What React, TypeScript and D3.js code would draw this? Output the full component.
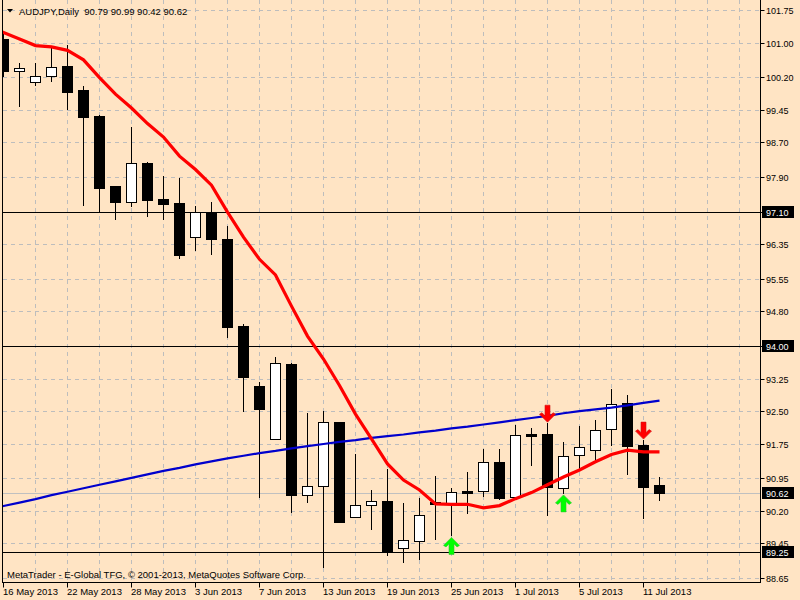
import React, { useRef, useEffect } from "react";
import * as d3 from "d3";

/* daily bars, AUDJPY */
const DATES = [
  "2013-05-16", "2013-05-17", "2013-05-20", "2013-05-21", "2013-05-22", "2013-05-23",
  "2013-05-24", "2013-05-27", "2013-05-28", "2013-05-29", "2013-05-30", "2013-05-31",
  "2013-06-03", "2013-06-04", "2013-06-05", "2013-06-06", "2013-06-07", "2013-06-10",
  "2013-06-11", "2013-06-12", "2013-06-13", "2013-06-14", "2013-06-17", "2013-06-18",
  "2013-06-19", "2013-06-20", "2013-06-21", "2013-06-24", "2013-06-25", "2013-06-26",
  "2013-06-27", "2013-06-28", "2013-07-01", "2013-07-02", "2013-07-03", "2013-07-04",
  "2013-07-05", "2013-07-08", "2013-07-09", "2013-07-10", "2013-07-11", "2013-07-12",
];
const OPEN = [
  101.07, 100.34, 100.1, 100.23, 100.46, 99.91, 99.31, 97.69, 97.33, 98.22, 97.39, 97.3,
  96.51, 97.08, 96.48, 94.46, 93.08, 91.86, 93.59, 90.56, 90.77, 92.25, 90.06, 90.34,
  90.43, 89.34, 89.51, 90.41, 90.39, 90.66, 90.65, 91.33, 90.52, 91.96, 91.97, 90.72,
  91.48, 91.61, 92.08, 92.68, 91.71, 90.79,
];
const HIGH = [
  101.22, 100.53, 100.53, 100.87, 100.94, 100.0, 99.33, 97.69, 99.06, 98.24, 97.93, 97.88,
  97.23, 97.32, 96.77, 94.5, 93.18, 93.75, 93.62, 92.46, 92.5, 92.25, 91.51, 90.68,
  91.16, 90.37, 90.5, 91.0, 90.73, 91.1, 91.63, 91.63, 92.18, 92.1, 92.22, 91.79,
  92.16, 92.29, 93.01, 92.87, 91.83, 90.99,
];
const LOW = [
  100.2, 99.52, 100.0, 100.1, 99.44, 97.24, 97.08, 96.91, 97.21, 96.98, 96.91, 96.01,
  96.2, 96.1, 94.18, 92.49, 90.49, 91.85, 90.16, 90.39, 88.87, 89.93, 90.04, 89.76,
  89.16, 89.0, 89.07, 89.53, 89.61, 90.13, 90.52, 90.45, 90.49, 91.23, 90.09, 90.59,
  91.16, 91.37, 91.69, 91.03, 90.01, 90.42,
];
const CLOSE = [
  100.35, 100.41, 100.22, 100.43, 99.87, 99.29, 97.65, 97.33, 98.21, 97.37, 97.28, 96.11,
  97.1, 96.47, 94.45, 93.29, 92.55, 93.6, 90.56, 90.77, 92.24, 89.94, 90.33, 90.43,
  89.27, 89.52, 90.1, 90.35, 90.63, 90.62, 91.32, 90.5, 91.94, 91.93, 90.74, 91.46,
  91.66, 92.06, 92.66, 91.7, 90.76, 90.62,
];

/* moving averages, first value belongs to the bar before 16 May */
const MA_RED = [
  101.38, 101.23, 101.08, 100.93, 100.9, 100.82, 100.6, 100.19, 99.81, 99.49, 99.13, 98.82,
  98.38, 98.07, 97.71, 97.09, 96.51, 96.0, 95.64, 94.92, 94.23, 93.7, 93.09, 92.43,
  91.86, 91.28, 90.91, 90.68, 90.36, 90.35, 90.35, 90.27, 90.32, 90.48, 90.62, 90.8,
  90.98, 91.14, 91.33, 91.5, 91.6, 91.56, 91.56,
];
const MA_BLUE = [
  90.23, 90.31, 90.39, 90.47, 90.56, 90.64, 90.72, 90.8, 90.88, 90.96, 91.04, 91.12,
  91.19, 91.27, 91.34, 91.41, 91.47, 91.53, 91.58, 91.64, 91.69, 91.74, 91.79, 91.83,
  91.88, 91.92, 91.96, 92.01, 92.05, 92.1, 92.14, 92.19, 92.24, 92.29, 92.34, 92.39,
  92.45, 92.5, 92.54, 92.58, 92.63, 92.69, 92.74,
];

const Y_TICKS = [
  101.75, 101.0, 100.2, 99.45, 98.7, 97.9, 97.1, 96.35, 95.55, 94.8, 94.0, 93.25, 92.5,
  91.75, 90.95, 90.2, 89.45, 88.65,
];
const LEVELS = [97.1, 94.0, 89.25];
const BID = 90.62;
const BUY_DATES = ["2013-06-25", "2013-07-04"];
const SELL_DATES = ["2013-07-03", "2013-07-11"];

const TITLE = "AUDJPY,Daily";
const COPYRIGHT = "MetaTrader - E-Global TFG, © 2001-2013, MetaQuotes Software Corp.";

const BG = "#FFE4C4";
const FONT = "'Liberation Sans', Arial, sans-serif";

export default function App() {
  const svgRef = useRef<SVGSVGElement>(null);

  useEffect(() => {
    document.body.style.margin = "0";
    const W = 800;
    const H = 600;
    const R = 760.5; // right frame
    const B = 582.5; // bottom frame
    const L = 2.5; // left frame

    const x = d3.scaleLinear().domain([0, 47]).range([3.5, 755.5]);
    const y = d3.scaleLinear().domain([88.65, 101.75]).range([578, 10]);
    const py = (v: number) => Math.round(y(v)) + 0.5;

    const parse = d3.timeParse("%Y-%m-%d");
    const fmt = d3.timeFormat("%-d %b %Y");
    const f2 = d3.format(".2f");

    const svg = d3.select(svgRef.current);
    svg.selectAll("*").remove();
    svg.append("rect").attr("width", W).attr("height", H).attr("fill", BG);

    svg
      .append("defs")
      .append("clipPath")
      .attr("id", "plot")
      .append("rect")
      .attr("x", 3)
      .attr("y", 0)
      .attr("width", R - 3)
      .attr("height", B);

    const g = svg.append("g").attr("clip-path", "url(#plot)");

    /* ---- grid ---- */
    const gridIdx = d3.range(2, 48, 2);
    g.selectAll(".vg")
      .data(gridIdx)
      .enter()
      .append("line")
      .attr("x1", (d) => x(d))
      .attr("x2", (d) => x(d))
      .attr("y1", 0)
      .attr("y2", B)
      .attr("stroke", "#BDBDBD")
      .attr("stroke-dasharray", "4,4");
    g.selectAll(".hg")
      .data(Y_TICKS)
      .enter()
      .append("line")
      .attr("x1", 3)
      .attr("x2", R)
      .attr("y1", (d) => py(d))
      .attr("y2", (d) => py(d))
      .attr("stroke", "#BDBDBD")
      .attr("stroke-dasharray", "4,4");

    /* ---- bid + levels ---- */
    g.append("line")
      .attr("x1", 3)
      .attr("x2", R)
      .attr("y1", py(BID))
      .attr("y2", py(BID))
      .attr("stroke", "#C0C0C0");
    g.selectAll(".lvl")
      .data(LEVELS)
      .enter()
      .append("line")
      .attr("x1", 3)
      .attr("x2", R)
      .attr("y1", (d) => py(d))
      .attr("y2", (d) => py(d))
      .attr("stroke", "#000");

    /* ---- candles ---- */
    const bars = DATES.map((d, i) => ({
      i,
      date: d,
      o: OPEN[i],
      h: HIGH[i],
      l: LOW[i],
      c: CLOSE[i],
    }));
    const cg = g.append("g").attr("shape-rendering", "crispEdges");
    cg.selectAll(".wick")
      .data(bars)
      .enter()
      .append("line")
      .attr("x1", (d) => x(d.i))
      .attr("x2", (d) => x(d.i))
      .attr("y1", (d) => Math.round(y(d.h)))
      .attr("y2", (d) => Math.round(y(d.l)))
      .attr("stroke", "#000");
    cg.selectAll(".body")
      .data(bars)
      .enter()
      .append("rect")
      .attr("x", (d) => x(d.i) - 5)
      .attr("width", 10)
      .attr("y", (d) => py(Math.max(d.o, d.c)))
      .attr("height", (d) => Math.max(1, py(Math.min(d.o, d.c)) - py(Math.max(d.o, d.c))))
      .attr("fill", (d) => (d.c >= d.o ? "#fff" : "#000"))
      .attr("stroke", "#000");

    /* ---- moving averages ---- */
    const maLine = d3
      .line<number>()
      .x((_, i) => x(i - 1))
      .y((v) => y(v));
    g.append("path")
      .datum(MA_BLUE)
      .attr("d", maLine)
      .attr("fill", "none")
      .attr("stroke", "#0000CD")
      .attr("stroke-width", 2.2);
    g.append("path")
      .datum(MA_RED)
      .attr("d", maLine)
      .attr("fill", "none")
      .attr("stroke", "#FF0000")
      .attr("stroke-width", 3.2);

    /* ---- signal arrows ---- */
    const upArrow =
      "M0,0 L8,8 L5.5,9.5 L2.5,6.5 L2.5,17 L-2.5,17 L-2.5,6.5 L-5.5,9.5 L-8,8 Z";
    const idxOf = (d: string) => DATES.indexOf(d);
    g.selectAll(".buy")
      .data(BUY_DATES.map(idxOf))
      .enter()
      .append("path")
      .attr("d", upArrow)
      .attr("transform", (i) => `translate(${x(i)},${y(LOW[i]) + 1})`)
      .attr("fill", "#00FF00")
      .attr("stroke", "#2EC82E")
      .attr("stroke-width", 0.6);
    g.selectAll(".sell")
      .data(SELL_DATES.map(idxOf))
      .enter()
      .append("path")
      .attr("d", upArrow)
      .attr("transform", (i) => `translate(${x(i)},${y(HIGH[i]) - 1}) scale(1,-1)`)
      .attr("fill", "#FF0000")
      .attr("stroke", "#D01010")
      .attr("stroke-width", 0.6);

    /* ---- frame ---- */
    const frame = svg.append("g").attr("stroke", "#000").attr("shape-rendering", "crispEdges");
    frame.append("line").attr("x1", L).attr("x2", L).attr("y1", 0).attr("y2", B);
    frame.append("line").attr("x1", R).attr("x2", R).attr("y1", 0).attr("y2", B);
    frame.append("line").attr("x1", L).attr("x2", R).attr("y1", B).attr("y2", B);

    /* ---- y axis ---- */
    const ya = svg.append("g").style("font-family", FONT).style("font-size", "9px");
    ya.selectAll("line")
      .data(Y_TICKS)
      .enter()
      .append("line")
      .attr("x1", R)
      .attr("x2", R + 4)
      .attr("y1", (d) => py(d))
      .attr("y2", (d) => py(d))
      .attr("stroke", "#000");
    ya.selectAll("text")
      .data(Y_TICKS)
      .enter()
      .append("text")
      .attr("x", 766)
      .attr("y", (d) => py(d))
      .attr("dy", "0.35em")
      .attr("fill", "#000")
      .text((d) => f2(d));

    const boxes = svg.append("g").style("font-family", FONT).style("font-size", "9px");
    [...LEVELS, BID].forEach((v) => {
      boxes
        .append("rect")
        .attr("x", 762)
        .attr("y", py(v) - 6.5)
        .attr("width", 32)
        .attr("height", 12)
        .attr("fill", "#000");
      boxes
        .append("text")
        .attr("x", 766)
        .attr("y", py(v))
        .attr("dy", "0.35em")
        .attr("fill", "#fff")
        .text(f2(v));
    });

    /* ---- x axis ---- */
    const xIdx = d3.range(0, DATES.length, 4);
    const xa = svg.append("g").style("font-family", FONT).style("font-size", "9.5px");
    xa.selectAll("line")
      .data(xIdx)
      .enter()
      .append("line")
      .attr("x1", (i) => x(i))
      .attr("x2", (i) => x(i))
      .attr("y1", B)
      .attr("y2", B + 5)
      .attr("stroke", "#000");
    xa.selectAll("text")
      .data(xIdx)
      .enter()
      .append("text")
      .attr("x", (i) => x(i) - 0.5)
      .attr("y", 595)
      .attr("fill", "#000")
      .text((i) => fmt(parse(DATES[i]) as Date));

    /* ---- title + copyright ---- */
    const last = DATES.length - 1;
    svg
      .append("path")
      .attr("d", "M7,9 L13,9 L10,12.5 Z")
      .attr("fill", "#000");
    svg
      .append("text")
      .attr("x", 19)
      .attr("y", 15)
      .attr("fill", "#000")
      .style("font-family", FONT)
      .style("font-size", "9.5px")
      .style("white-space", "pre")
      .text(
        `${TITLE}  ${f2(OPEN[last])} ${f2(HIGH[last])} ${f2(LOW[last])} ${f2(CLOSE[last])}`
      );
    svg
      .append("text")
      .attr("x", 7)
      .attr("y", 578)
      .attr("fill", "#000")
      .style("font-family", FONT)
      .style("font-size", "9.5px")
      .text(COPYRIGHT);
  }, []);

  return <svg ref={svgRef} width={800} height={600} style={{ display: "block" }} />;
}
